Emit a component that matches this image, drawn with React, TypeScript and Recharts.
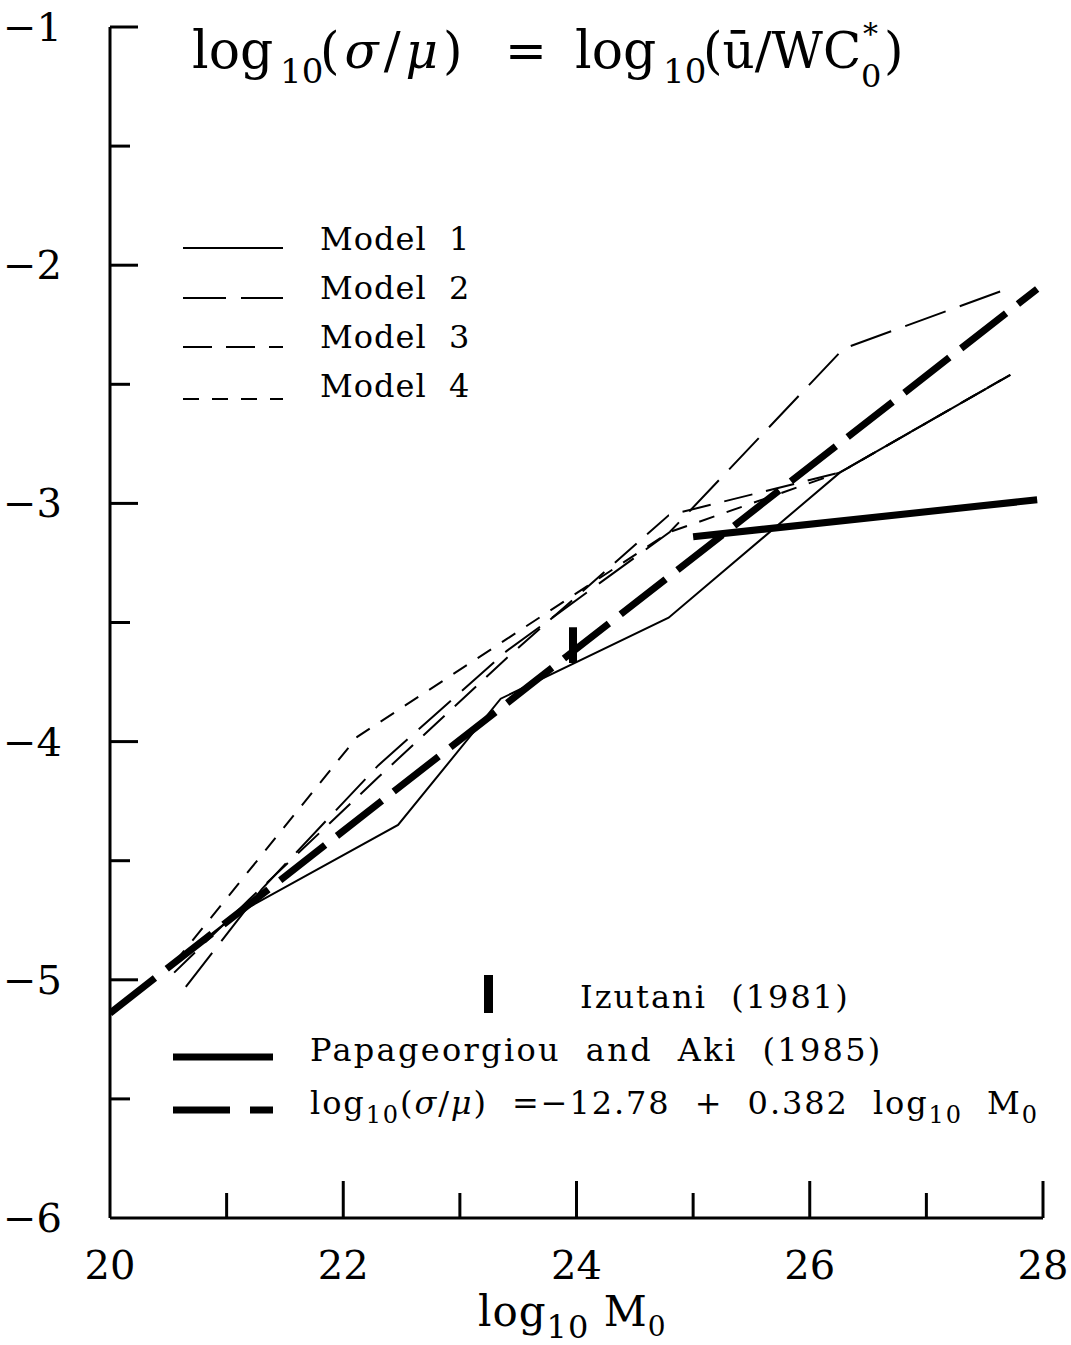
import React from 'react';
import { LineChart, Line, XAxis, YAxis } from 'recharts';

const FONT = '"DejaVu Serif", serif';
const SP = '\u00A0';

// Axis ticks
const xTicks = [20, 21, 22, 23, 24, 25, 26, 27, 28];
const yTicks = [-6, -5.5, -5, -4.5, -4, -3.5, -3, -2.5, -2, -1.5, -1];

// Model curves
const model1X = [20.55, 21.1, 22.47, 23.35, 24.79, 26.26, 27.72];
const model1Y = [-4.93, -4.72, -4.35, -3.82, -3.48, -2.87, -2.46];

const model2X = [20.65, 21.3, 22.3, 23.4, 24.8, 26.29, 27.69];
const model2Y = [-5.03, -4.62, -4.1, -3.62, -3.12, -2.35, -2.1];

const model3X = [20.55, 21.2, 22.3, 23.4, 24.79, 26.26, 27.72];
const model3Y = [-4.97, -4.66, -4.15, -3.65, -3.05, -2.87, -2.46];

const model4X = [20.55, 21.03, 22.12, 23.4, 24.8, 26.26, 27.72];
const model4Y = [-4.93, -4.64, -3.98, -3.57, -3.12, -2.87, -2.46];

// Regression line log10(sigma/mu) = -12.78 + 0.382 log10 M0
const regX = [20, 27.95];
const regY = [-5.14, -2.1];

// Papageorgiou and Aki (1985)
const papX = [25, 27.95];
const papY = [-3.14, -2.985];

// Izutani (1981)
const izuX = [23.97, 23.97];
const izuY = [-3.52, -3.67];

const zip = (xs: number[], ys: number[]) => xs.map((x, i) => ({ x, y: ys[i] }));

const XTick = (props: any) => {
  const { x, y, payload } = props;
  const v = payload.value;
  const major = v % 2 === 0;
  return (
    <g>
      {v !== 20 && (
        <line x1={x} y1={y} x2={x} y2={y - (major ? 37 : 25)} stroke="#000" strokeWidth={3} />
      )}
      {major && (
        <text x={x} y={y + 61} textAnchor="middle" fontFamily={FONT} fontSize={40} fill="#000">
          {v}
        </text>
      )}
    </g>
  );
};

const YTick = (props: any) => {
  const { x, y, payload } = props;
  const v = payload.value;
  const major = Number.isInteger(v);
  return (
    <g>
      {v !== -6 && (
        <line x1={x} y1={y} x2={x + (major ? 28 : 20)} y2={y} stroke="#000" strokeWidth={3} />
      )}
      {major && (
        <text x={x - 48} y={y + 14} textAnchor="end" fontFamily={FONT} fontSize={40} fill="#000">
          {'\u2212' + Math.abs(v)}
        </text>
      )}
    </g>
  );
};

const txt = { fontFamily: FONT, fill: '#000' };

export default function App() {
  return (
    <div style={{ position: 'absolute', left: 0, top: 0, width: 1071, height: 1345, background: '#fff' }}>
      <LineChart
        width={1071}
        height={1345}
        margin={{ top: 27, right: 28, bottom: 97, left: 50 }}
      >
        <XAxis
          dataKey="x"
          type="number"
          domain={[20, 28]}
          ticks={xTicks}
          interval={0}
          height={30}
          tickSize={0}
          tickMargin={0}
          tickLine={false}
          axisLine={{ stroke: '#000', strokeWidth: 3 }}
          tick={<XTick />}
          allowDataOverflow
        />
        <YAxis
          type="number"
          domain={[-6, -1]}
          ticks={yTicks}
          interval={0}
          width={60}
          tickSize={0}
          tickMargin={0}
          tickLine={false}
          axisLine={{ stroke: '#000', strokeWidth: 3 }}
          tick={<YTick />}
          allowDataOverflow
        />
        <Line data={zip(model1X, model1Y)} dataKey="y" type="linear" stroke="#000" strokeWidth={2} dot={false} isAnimationActive={false} />
        <Line data={zip(model2X, model2Y)} dataKey="y" type="linear" stroke="#000" strokeWidth={2} strokeDasharray="43 15" dot={false} isAnimationActive={false} />
        <Line data={zip(model3X, model3Y)} dataKey="y" type="linear" stroke="#000" strokeWidth={2} strokeDasharray="29 14" dot={false} isAnimationActive={false} />
        <Line data={zip(model4X, model4Y)} dataKey="y" type="linear" stroke="#000" strokeWidth={2} strokeDasharray="16 13" dot={false} isAnimationActive={false} />
        <Line data={zip(regX, regY)} dataKey="y" type="linear" stroke="#000" strokeWidth={7} strokeDasharray="57 15" dot={false} isAnimationActive={false} />
        <Line data={zip(papX, papY)} dataKey="y" type="linear" stroke="#000" strokeWidth={7} dot={false} isAnimationActive={false} />
        <Line data={zip(izuX, izuY)} dataKey="y" type="linear" stroke="#000" strokeWidth={8} dot={false} isAnimationActive={false} />
      </LineChart>

      <svg width={1071} height={1345} style={{ position: 'absolute', left: 0, top: 0, pointerEvents: 'none' }}>
        {/* Title */}
        <g fontSize={50} {...txt}>
          <text x={192} y={68} fontSize={52} {...txt}>log</text>
          <text x={280} y={83} fontSize={34} {...txt}>10</text>
          <text x={320} y={68} letterSpacing={5} {...txt}>
            (<tspan fontStyle="italic">σ</tspan>/<tspan fontStyle="italic">μ</tspan>)
          </text>
          <text x={505} y={68} {...txt}>=</text>
          <text x={575} y={68} fontSize={52} {...txt}>log</text>
          <text x={663} y={83} fontSize={34} {...txt}>10</text>
          <text x={703} y={68} {...txt}>(ū/WC</text>
          <text x={861} y={87} fontSize={32} {...txt}>0</text>
          <text x={863} y={44} fontSize={30} {...txt}>*</text>
          <text x={884} y={68} {...txt}>)</text>
        </g>

        {/* Model legend */}
        <line x1={183} y1={248} x2={283} y2={248} stroke="#000" strokeWidth={2} />
        <line x1={183} y1={298} x2={283} y2={298} stroke="#000" strokeWidth={2} strokeDasharray="43 15" />
        <line x1={183} y1={347} x2={283} y2={347} stroke="#000" strokeWidth={2} strokeDasharray="29 14" />
        <line x1={183} y1={399} x2={283} y2={399} stroke="#000" strokeWidth={2} strokeDasharray="16 13" />
        <text x={320} y={250} fontSize={32} letterSpacing={1} {...txt}>{`Model${SP}${SP}1`}</text>
        <text x={320} y={299} fontSize={32} letterSpacing={1} {...txt}>{`Model${SP}${SP}2`}</text>
        <text x={320} y={348} fontSize={32} letterSpacing={1} {...txt}>{`Model${SP}${SP}3`}</text>
        <text x={320} y={397} fontSize={32} letterSpacing={1} {...txt}>{`Model${SP}${SP}4`}</text>

        {/* Lower legend */}
        <rect x={484} y={975} width={9} height={38} fill="#000" />
        <text x={580} y={1008} fontSize={32} letterSpacing={2} {...txt}>{`Izutani${SP}${SP}(1981)`}</text>
        <line x1={173} y1={1057} x2={273} y2={1057} stroke="#000" strokeWidth={7} />
        <text x={310} y={1061} fontSize={32} letterSpacing={2.3} {...txt}>
          {`Papageorgiou${SP}${SP}and${SP}${SP}Aki${SP}${SP}(1985)`}
        </text>
        <line x1={173} y1={1110} x2={273} y2={1110} stroke="#000" strokeWidth={7} strokeDasharray="57 20" />
        <text x={310} y={1114} fontSize={32} letterSpacing={1.9} {...txt}>
          log<tspan fontSize={24} dy={9}>10</tspan>
          <tspan dy={-9}>(</tspan>
          <tspan fontStyle="italic">σ</tspan>
          <tspan>/</tspan>
          <tspan fontStyle="italic">μ</tspan>
          <tspan>{`)${SP}${SP}=−12.78${SP}${SP}+${SP}${SP}0.382${SP}${SP}log`}</tspan>
          <tspan fontSize={24} dy={9}>10</tspan>
          <tspan dy={-9}>{`${SP}${SP}M`}</tspan>
          <tspan fontSize={24} dy={9}>0</tspan>
        </text>

        {/* X-axis label */}
        <text x={478} y={1326} fontSize={42} letterSpacing={1} {...txt}>
          log<tspan fontSize={32} dy={12}>10</tspan>
          <tspan dy={-12}>{`${SP}M`}</tspan>
          <tspan fontSize={28} dy={10}>0</tspan>
        </text>
      </svg>
    </div>
  );
}
